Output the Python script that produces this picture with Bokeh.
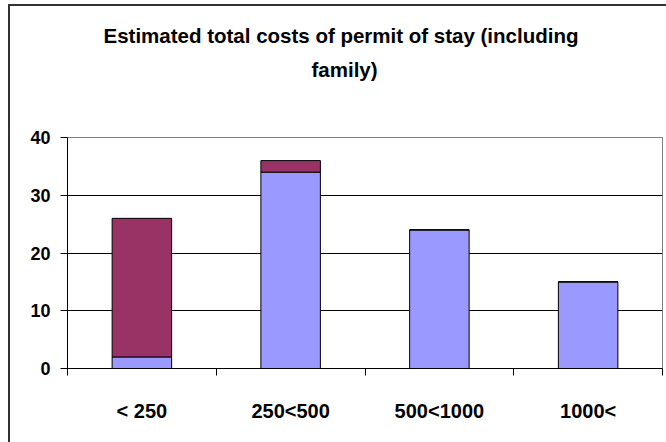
from bokeh.plotting import figure
from bokeh.models import Range1d, LinearAxis, FixedTicker, Title
from bokeh.embed import file_html
from bokeh.resources import INLINE

# ---- data ----
categories = ["< 250", "250<500", "500<1000", "1000<"]
series_a = [2, 34, 24, 15]     # lower (blue)
series_b = [24, 2, 0, 0]       # upper (maroon)
y_ticks = [0, 10, 20, 30, 40]
title_lines = ["Estimated total costs of permit of stay (including", "family)"]

FONT = "Liberation Sans"
n = len(categories)
centers = [i + 0.5 for i in range(n)]

p = figure(width=666, height=442, x_range=Range1d(0, n), y_range=Range1d(0, 40),
           output_backend="svg", toolbar_location=None, x_axis_location=None,
           y_axis_location=None, min_border_left=67, min_border_right=4,
           min_border_top=137, min_border_bottom=74, title=title_lines[0])
p.background_fill_color = "white"
p.border_fill_color = None
p.outline_line_color = "#808080"
p.outline_line_width = 1
p.styles = {
    "background-color": "white",
    "background-image": "linear-gradient(#333333,#333333), linear-gradient(#333333,#333333)",
    "background-size": "2px 100%, 100% 2px",
    "background-position": "8px 4px, 8px 4px",
    "background-repeat": "no-repeat",
}

src = dict(x=centers, cat=categories, a=series_a, b=series_b)
p.vbar_stack(["a", "b"], x="x", width=0.4, source=src,
             fill_color=["#9999FF", "#993366"], line_color="black", line_width=1)

# grid
p.xgrid.visible = False
p.ygrid.ticker = FixedTicker(ticks=y_ticks[1:-1])
p.ygrid.grid_line_color = "black"
p.ygrid.grid_line_width = 1

# y axis
yax = LinearAxis(ticker=FixedTicker(ticks=y_ticks))
yax.axis_line_color = "black"
yax.major_tick_line_color = "black"
yax.major_tick_out = 7
yax.major_tick_in = 0
yax.minor_tick_line_color = None
yax.major_label_standoff = 10
yax.major_label_text_font = FONT
yax.major_label_text_font_style = "bold"
yax.major_label_text_font_size = "18px"
yax.major_label_text_color = "black"
p.add_layout(yax, "left")

# x axis: labels at category centres, tick marks at category boundaries
xax = LinearAxis(ticker=FixedTicker(ticks=centers, minor_ticks=list(range(n + 1))))
xax.axis_line_color = "black"
xax.major_tick_line_color = None
xax.major_tick_out = 0
xax.major_tick_in = 0
xax.minor_tick_line_color = "black"
xax.minor_tick_out = 7
xax.minor_tick_in = 0
xax.major_label_overrides = {c: lab for c, lab in zip(centers, categories)}
xax.major_label_standoff = 24
xax.major_label_text_font = FONT
xax.major_label_text_font_style = "bold"
xax.major_label_text_font_size = "20px"
xax.major_label_text_color = "black"
p.add_layout(xax, "below")

# title: first line is p.title (outermost); a spacer and the second line sit below it
spacer = Title(text=" ", standoff=24, vertical_align="bottom")
t2 = Title(text=title_lines[1], align="left", offset=244, standoff=16, vertical_align="bottom")
p.above = [spacer, t2]
p.title.align = "left"
p.title.offset = 36
p.title.standoff = 2
p.title.vertical_align = "bottom"
for t in (p.title, t2, spacer):
    t.text_font = FONT
    t.text_font_style = "bold"
    t.text_font_size = "20.5px"
    t.text_color = "black"

open("out.html", "w").write(file_html(p, INLINE))
